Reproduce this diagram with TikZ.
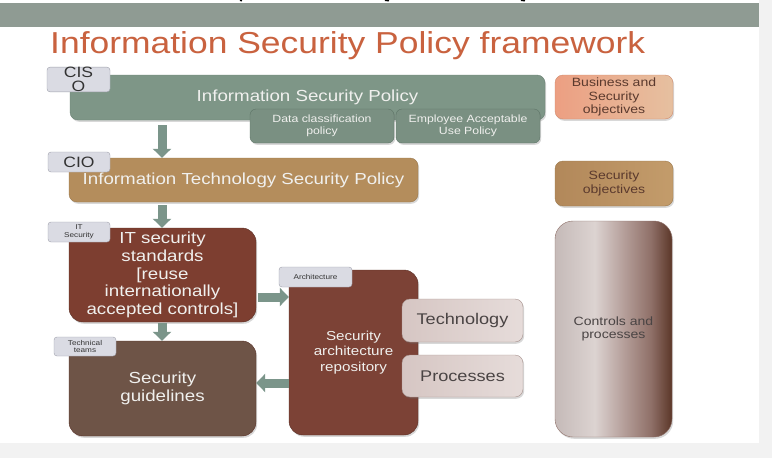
\documentclass[tikz,border=0pt]{standalone}
\usepackage{fontspec}
\setmainfont[FakeStretch=1.17]{Liberation Sans}
\usetikzlibrary{arrows.meta,shadows,calc}
\definecolor{bandc}{HTML}{8F9B93}
\definecolor{titlec}{HTML}{C9623F}
\definecolor{pagec}{HTML}{F2F2F2}
\definecolor{ispc}{HTML}{7E9687}
\definecolor{ispd}{HTML}{6A8174}
\definecolor{subc}{HTML}{7A9082}
\definecolor{subd}{HTML}{5E7467}
\definecolor{itspc}{HTML}{B48D5C}
\definecolor{itspd}{HTML}{9A784C}
\definecolor{stdc}{HTML}{7D3E30}
\definecolor{guidec}{HTML}{6E5447}
\definecolor{repoc}{HTML}{7C4236}
\definecolor{darkd}{HTML}{5A3026}
\definecolor{techl}{HTML}{D6C6C3}
\definecolor{techr}{HTML}{E6DCDA}
\definecolor{techd}{HTML}{A8938F}
\definecolor{busl}{HTML}{EC9F82}
\definecolor{busr}{HTML}{E6C0A0}
\definecolor{busd}{HTML}{D08C6F}
\definecolor{secl}{HTML}{B2885A}
\definecolor{secr}{HTML}{C39C6B}
\definecolor{secd}{HTML}{9C7A4D}
\definecolor{cA}{HTML}{C5BAB8}
\definecolor{cB}{HTML}{DCD3D1}
\definecolor{cC}{HTML}{B39C97}
\definecolor{cD}{HTML}{8F7068}
\definecolor{cE}{HTML}{5B3628}
\definecolor{tabfill}{HTML}{DADBE3}
\definecolor{tabline}{HTML}{9FA1AC}
\definecolor{tabtext}{HTML}{333333}
\definecolor{arrowc}{HTML}{7B958A}
\definecolor{boxtext}{HTML}{F0F0EE}
\definecolor{darktext}{HTML}{4A4444}
\definecolor{brtext}{HTML}{5B3A2E}
\pgfdeclarehorizontalshading{ctrlshade}{100bp}{color(0bp)=(cA); color(25bp)=(cA); color(42bp)=(cB); color(55bp)=(cC); color(66bp)=(cD); color(75bp)=(cE); color(100bp)=(cE)}
\newcommand\fsTitle{\fontsize{30.3}{34}\selectfont}
\newcommand\fsBig{\fontsize{16}{17.6}\selectfont}
\newcommand\fsMid{\fontsize{13}{15.5}\selectfont}
\newcommand\fsSm{\fontsize{12}{13.5}\selectfont}
\newcommand\fsSub{\fontsize{10.5}{12}\selectfont}
\newcommand\fsTab{\fontsize{15}{14}\selectfont}
\newcommand\fsTiny{\fontsize{7}{7.5}\selectfont}
\tikzset{
  box/.style={rounded corners=8pt, inner sep=0pt, align=center,
    drop shadow={shadow xshift=1.2pt, shadow yshift=-1.8pt, opacity=0.25, fill=black!60}},
  tab/.style={draw=tabline, fill=tabfill, rounded corners=3pt, inner sep=0pt,
    text=tabtext, align=center},
  bigarrow/.style={draw=arrowc, line width=9pt, -{Triangle[width=18pt,length=9pt]}}
}
\begin{document}
\begin{tikzpicture}[x=1pt,y=-1pt]
\useasboundingbox (0,0) rectangle (772,458);
% page
\fill[pagec] (0,0) rectangle (772,458);
\fill[white] (0,0) rectangle (759,443);
\fill[bandc] (0,3) rectangle (759,27);
\draw[black, line width=2pt] (240,0) -- (242,0.5) (385,0) -- (389,0.5) (521,0) -- (525,0.5);
% title
\node[anchor=base west, inner sep=0pt, text=titlec, font=\fsTitle] (title) at (50,53) {Information Security Policy framework};
% level 1
\node[box, fill=ispc, draw=ispd, minimum width=475pt, minimum height=45pt, font=\fsBig, text=boxtext] (isp) at (307.5,97.5) {Information Security Policy};
\node[tab, minimum width=63pt, minimum height=21pt, font=\fsTab] (tciso) at (78.5,79.5) {CIS\\O};
\node[box, rounded corners=6pt, fill=subc, draw=subd, minimum width=144pt, minimum height=34pt, font=\fsSub, text=boxtext] (dc) at (322,126) {Data classification\\policy};
\node[box, rounded corners=6pt, fill=subc, draw=subd, minimum width=144pt, minimum height=34pt, font=\fsSub, text=boxtext] (ea) at (468,126) {Employee Acceptable\\Use Policy};
% level 2
\node[box, fill=itspc, draw=itspd, minimum width=349pt, minimum height=44pt, font=\fsBig, text=boxtext] (itsp) at (243.5,180) {Information Technology Security Policy};
\node[tab, minimum width=62pt, minimum height=20pt, font=\fsTab] (tcio) at (79,162) {CIO};
% level 3
\node[box, rounded corners=14pt, fill=stdc, draw=darkd, minimum width=187pt, minimum height=94pt, font=\fsBig, text=boxtext] (std) at (162.5,275) {IT security\\standards\\{}[reuse\\internationally\\accepted controls]};
\node[tab, minimum width=62pt, minimum height=20pt, font=\fsTiny] (tits) at (79,232) {IT\\Security};
\node[box, rounded corners=14pt, fill=guidec, draw=darkd, minimum width=187pt, minimum height=95pt, font=\fsBig, text=boxtext] (guide) at (162.5,388.5) {Security\\guidelines};
\node[tab, minimum width=62pt, minimum height=19pt, font=\fsTiny] (ttech) at (85,346.5) {Technical\\teams};
\node[box, rounded corners=14pt, fill=repoc, draw=darkd, minimum width=129pt, minimum height=165pt, font=\fsMid, text=boxtext] (repo) at (353.5,352.5) {Security\\architecture\\repository};
\node[tab, minimum width=73pt, minimum height=20pt, font=\fsTiny] (tarch) at (315.5,277) {Architecture};
\node[box, left color=techl, right color=techr, draw=techd, minimum width=121pt, minimum height=43pt, font=\fontsize{15.5}{17}\selectfont, text=darktext] (tech) at (462.5,320.5) {Technology};
\node[box, left color=techl, right color=techr, draw=techd, minimum width=121pt, minimum height=42pt, font=\fontsize{15.5}{17}\selectfont, text=darktext] (proc) at (462.5,376) {Processes};
% right column
\node[box, left color=busl, right color=busr, draw=busd, minimum width=118pt, minimum height=44pt, font=\fsSm, text=brtext] (bus) at (614,97) {Business and\\Security\\objectives};
\node[box, left color=secl, right color=secr, draw=secd, minimum width=118pt, minimum height=45pt, font=\fsSm, text=brtext] (secobj) at (614,183.5) {Security\\objectives};
\node[box, rounded corners=18pt, shading=ctrlshade, draw=cD, minimum width=117pt, minimum height=216pt, font=\fsSm, text=darktext] (ctrl) at (613.5,329) {Controls and\\processes};
% connectors
\coordinate (ax) at (162,0);
\coordinate (ay1) at (0,297);
\coordinate (ay2) at (0,383);
\draw[bigarrow, shorten <=5pt] (isp.south -| ax) -- (itsp.north -| ax);
\draw[bigarrow, shorten <=3pt] (itsp.south -| ax) -- (std.north -| ax);
\draw[bigarrow, shorten <=1pt] (std.south -| ax) -- (guide.north -| ax);
\draw[bigarrow, shorten <=2pt] (std.east |- ay1) -- (repo.west |- ay1);
\draw[bigarrow] (repo.west |- ay2) -- (guide.east |- ay2);
\end{tikzpicture}
\end{document}
